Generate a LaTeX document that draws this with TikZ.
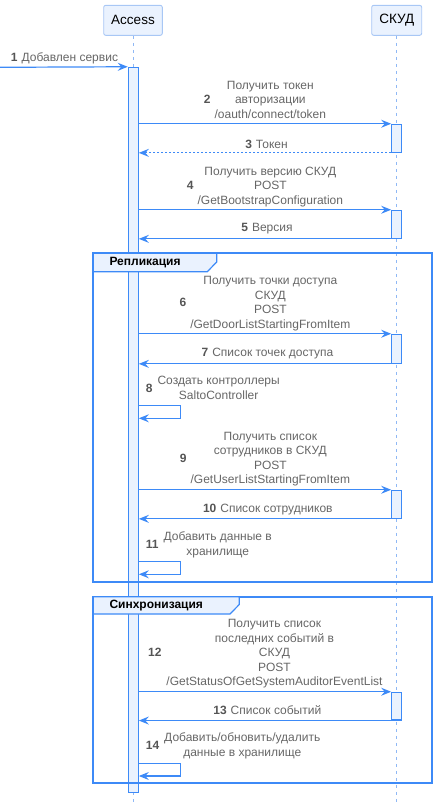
\documentclass[tikz,border=0pt]{standalone}
\usepackage{fontspec}
\setmainfont{Liberation Sans}
\usetikzlibrary{arrows.meta}
\definecolor{blu}{HTML}{3D8AF7}
\definecolor{actfill}{HTML}{EAF2FE}
\definecolor{actline}{HTML}{A8C7F5}
\definecolor{life}{HTML}{8FB8F5}
\definecolor{txt}{HTML}{666666}
\definecolor{numc}{HTML}{555555}
\newcommand{\mnum}[1]{{\color{numc}\bfseries #1}}
\tikzset{
  actor/.style={draw=actline, fill=actfill, rounded corners=2pt, line width=0.9pt, minimum height=30pt, inner sep=0pt, font=\fontsize{13.5}{16}\selectfont, text=black},
  lifeln/.style={draw=life, line width=0.8pt, dash pattern=on 3.5pt off 3.5pt},
  actbar/.style={draw=blu, fill=actfill, line width=1.1pt, minimum width=10pt, inner sep=0pt},
  msg/.style={draw=blu, line width=1.2pt, -{Stealth[length=10pt,width=8pt,inset=3.5pt]}},
  retd/.style={msg, dash pattern=on 2pt off 2pt},
  lbl/.style={font=\fontsize{12}{14.5}\selectfont, text=txt, inner sep=0pt},
  framebox/.style={draw=blu, line width=2pt},
  tabbox/.style={draw=blu, fill=actfill, line width=1.2pt},
  ftitle/.style={font=\fontsize{12}{14}\selectfont\bfseries, text=black, inner sep=0pt, anchor=west}
}
\begin{document}
\begin{tikzpicture}[x=1pt,y=-1pt]
\useasboundingbox (0,0) rectangle (436,807);
% participants
\node[actor, minimum width=58.6pt] (pa) at (133,20.3) {Access};
\node[actor, minimum width=50pt] (ps) at (396.7,20.3) {СКУД};
\coordinate (ea) at (133,802);
\coordinate (es) at (396.7,802);
\draw[lifeln] (pa.south) -- (ea);
\draw[lifeln] (ps.south) -- (es);
% activations
\node[actbar, minimum height=725pt] (aa) at (133.3,429.8) {};
\node[actbar, minimum height=28pt] (s1) at (396.7,138.3) {};
\node[actbar, minimum height=28pt] (s2) at (396.7,224.3) {};
\node[actbar, minimum height=29pt] (s3) at (396.7,348.8) {};
\node[actbar, minimum height=28pt] (s4) at (396.7,504.3) {};
\node[actbar, minimum height=27.7pt] (s5) at (396.7,706.15) {};
% frames
\draw[framebox] (93.3,253.3) rectangle (431.7,582.3);
\draw[tabbox] (93.3,253.3) -- (216.7,253.3) -- (216.7,262) -- (207.3,271.7) -- (93.3,271.7) -- cycle;
\node[ftitle] (f1) at (109.3,262.5) {Репликация};
\draw[framebox] (93.3,596.7) rectangle (431.7,783.3);
\draw[tabbox] (93.3,596.7) -- (239.3,596.7) -- (239.3,604.5) -- (230,614) -- (93.3,614) -- cycle;
\node[ftitle] (f2) at (109.3,605.5) {Синхронизация};
% message 1
\coordinate (start) at (0,67.3);
\draw[msg] (start) -- (aa.north west);
\node[lbl] (l1) at (64.5,58.3) {\mnum{1}\hspace{4pt}Добавлен сервис};
% message 2/3
\draw[msg] (aa.east |- s1.north) -- (s1.north west);
\node[lbl] (l2) at (265,100.7) {\mnum{2}\hspace{4pt}\begin{tabular}{@{}c@{}}Получить токен\\авторизации\\/oauth/connect/token\end{tabular}};
\draw[retd] (s1.south west) -- (aa.east |- s1.south);
\node[lbl] (l3) at (266.5,144) {\mnum{3}\hspace{4pt}Токен};
% message 4/5
\draw[msg] (aa.east |- s2.north) -- (s2.north west);
\node[lbl] (l4) at (265,186.7) {\mnum{4}\hspace{4pt}\begin{tabular}{@{}c@{}}Получить версию СКУД\\POST\\/GetBootstrapConfiguration\end{tabular}};
\draw[msg] (s2.south west) -- (aa.east |- s2.south);
\node[lbl] (l5) at (267,229) {\mnum{5}\hspace{4pt}Версия};
% message 6/7
\draw[msg] (aa.east |- s3.north) -- (s3.north west);
\node[lbl] (l6) at (265,303.7) {\mnum{6}\hspace{4pt}\begin{tabular}{@{}c@{}}Получить точки доступа\\СКУД\\POST\\/GetDoorListStartingFromItem\end{tabular}};
\draw[msg] (s3.south west) -- (aa.east |- s3.south);
\node[lbl] (l7) at (267.5,353.7) {\mnum{7}\hspace{4pt}Список точек доступа};
% message 8
\coordinate (c8a) at (180.3,405.3);
\coordinate (c8b) at (180.3,418.3);
\draw[msg] (aa.east |- c8a) -- (c8a) -- (c8b) -- (aa.east |- c8b);
\node[lbl, anchor=west] (l8) at (145.7,389.3) {\mnum{8}\hspace{5pt}\begin{tabular}{@{}c@{}}Создать контроллеры\\SaltoController\end{tabular}};
% message 9/10
\draw[msg] (aa.east |- s4.north) -- (s4.north west);
\node[lbl] (l9) at (265,459.3) {\mnum{9}\hspace{4pt}\begin{tabular}{@{}c@{}}Получить список\\сотрудников в СКУД\\POST\\/GetUserListStartingFromItem\end{tabular}};
\draw[msg] (s4.south west) -- (aa.east |- s4.south);
\node[lbl] (l10) at (267.8,510) {\mnum{10}\hspace{4pt}Список сотрудников};
% message 11
\coordinate (c11a) at (180.3,561.7);
\coordinate (c11b) at (180.3,574.3);
\draw[msg] (aa.east |- c11a) -- (c11a) -- (c11b) -- (aa.east |- c11b);
\node[lbl, anchor=west] (l11) at (145.7,545) {\mnum{11}\hspace{5pt}\begin{tabular}{@{}c@{}}Добавить данные в\\хранилище\end{tabular}};
% message 12/13
\draw[msg] (aa.east |- s5.north) -- (s5.north west);
\node[lbl] (l12) at (265.3,653.7) {\mnum{12}\hspace{5pt}\begin{tabular}{@{}c@{}}Получить список\\последних событий в\\СКУД\\POST\\/GetStatusOfGetSystemAuditorEventList\end{tabular}};
\draw[msg] (s5.south west) -- (aa.east |- s5.south);
\node[lbl] (l13) at (267.3,710) {\mnum{13}\hspace{4pt}Список событий};
% message 14
\coordinate (c14a) at (180.3,763.3);
\coordinate (c14b) at (180.3,776);
\draw[msg] (aa.east |- c14a) -- (c14a) -- (c14b) -- (aa.east |- c14b);
\node[lbl, anchor=west] (l14) at (145.7,746.3) {\mnum{14}\hspace{5pt}\begin{tabular}{@{}c@{}}Добавить/обновить/удалить\\данные в хранилище\end{tabular}};
\end{tikzpicture}
\end{document}
